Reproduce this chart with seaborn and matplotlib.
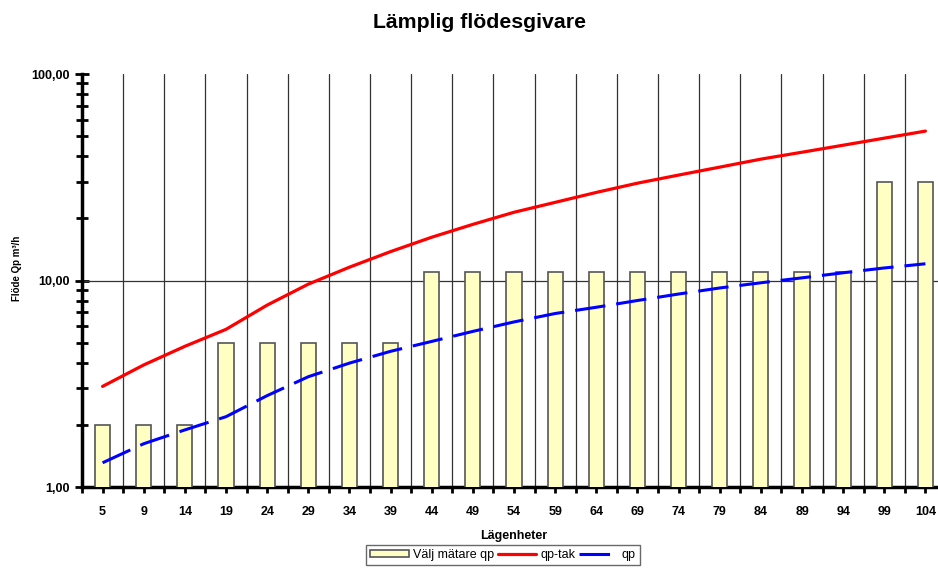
import numpy as np
import pandas as pd
import matplotlib
matplotlib.use('Agg')
import matplotlib.pyplot as plt
import seaborn as sns
from matplotlib.ticker import FixedLocator, FuncFormatter, NullFormatter

# Data
lagenheter = ['5', '9', '14', '19', '24', '29', '34', '39', '44', '49', '54',
              '59', '64', '69', '74', '79', '84', '89', '94', '99', '104']
valj_matare_qp = [2, 2, 2, 5, 5, 5, 5, 5, 11, 11, 11, 11, 11, 11, 11, 11, 11, 11, 11, 30, 30]
qp_tak = [3.07, 3.9, 4.8, 5.8, 7.6, 9.6, 11.6, 13.8, 16.2, 18.7, 21.4,
          23.9, 26.7, 29.6, 32.4, 35.4, 38.7, 41.8, 45.2, 48.9, 52.9]
qp = [1.31, 1.62, 1.89, 2.19, 2.77, 3.42, 3.98, 4.54, 5.07, 5.67, 6.3,
      6.92, 7.42, 8.0, 8.6, 9.2, 9.75, 10.3, 10.9, 11.5, 12.05]

sns.set_style('white')
plt.rcParams['font.family'] = ['Liberation Sans', 'DejaVu Sans']
plt.rcParams['text.color'] = 'black'
plt.rcParams['axes.labelcolor'] = 'black'
plt.rcParams['xtick.color'] = 'black'
plt.rcParams['ytick.color'] = 'black'

df = pd.DataFrame({'Lägenheter': lagenheter, 'Välj mätare qp': valj_matare_qp})
pos = np.arange(len(lagenheter))

fig = plt.figure(figsize=(9.38, 5.69), dpi=100)
ax = fig.add_axes([82 / 938, 82 / 569, 864 / 938, 413 / 569])
ax.set_yscale('log')

sns.barplot(data=df, x='Lägenheter', y='Välj mätare qp', ax=ax, width=0.37,
            color='#FFFFC4', edgecolor='#555555', linewidth=1.2, saturation=1,
            label='Välj mätare qp', zorder=3)
sns.lineplot(x=pos, y=qp_tak, ax=ax, color='#FF0000', linewidth=2.3,
             label='qp-tak', zorder=4)
sns.lineplot(x=pos, y=qp, ax=ax, color='#0000FF', linewidth=2.2,
             label='qp', zorder=4)
ax.lines[-1].set_dashes((10, 3.6))

ax.set_ylim(1, 100)
ax.set_xlim(-0.5, len(lagenheter) - 0.5)

# grid: vertical lines between categories, horizontal at 10
ax.xaxis.set_minor_locator(FixedLocator(np.arange(-0.5, len(lagenheter), 1.0)))
ax.grid(False)
ax.grid(True, axis='x', which='minor', color='#333333', linewidth=0.9, zorder=1)
ax.axhline(10, color='#333333', linewidth=0.9, zorder=1)

ax.yaxis.set_major_formatter(FuncFormatter(lambda v, p: f'{v:.2f}'.replace('.', ',')))
ax.yaxis.set_minor_formatter(NullFormatter())
ax.tick_params(axis='y', which='major', direction='inout', length=10, width=2,
               labelsize=9, left=True)
ax.tick_params(axis='y', which='minor', direction='inout', length=8, width=2, left=True)
ax.tick_params(axis='x', which='both', direction='out', length=4, width=2,
               labelsize=9, bottom=True, pad=10)
for lbl in ax.get_xticklabels() + ax.get_yticklabels():
    lbl.set_fontweight('bold')

for s in ['top', 'right']:
    ax.spines[s].set_visible(False)
ax.spines['left'].set_linewidth(2.5)
ax.spines['bottom'].set_linewidth(2.5)
ax.spines['left'].set_color('black')
ax.spines['bottom'].set_color('black')

ax.set_xlabel('Lägenheter', fontsize=9, fontweight='bold', labelpad=8)
ax.set_ylabel('Flöde Qp m³/h', fontsize=7, fontweight='bold')
ax.yaxis.set_label_coords(-0.07, 0.53)

fig.suptitle('Lämplig flödesgivare', fontsize=15.3, fontweight='bold', x=0.511, y=0.978)

handles, labels = ax.get_legend_handles_labels()
order = ['Välj mätare qp', 'qp-tak', 'qp']
hmap = dict(zip(labels, handles))
if ax.legend_:
    ax.legend_.remove()
fig.legend([hmap[k] for k in order], order, loc='upper center',
           bbox_to_anchor=(0.536, 0.043), ncol=3, frameon=True, fancybox=False,
           edgecolor='#444444', fontsize=9, handlelength=3.1, handleheight=0.4,
           columnspacing=0.3, handletextpad=0.3, borderpad=0.35, borderaxespad=0)

fig.savefig('out.png', dpi=100)
